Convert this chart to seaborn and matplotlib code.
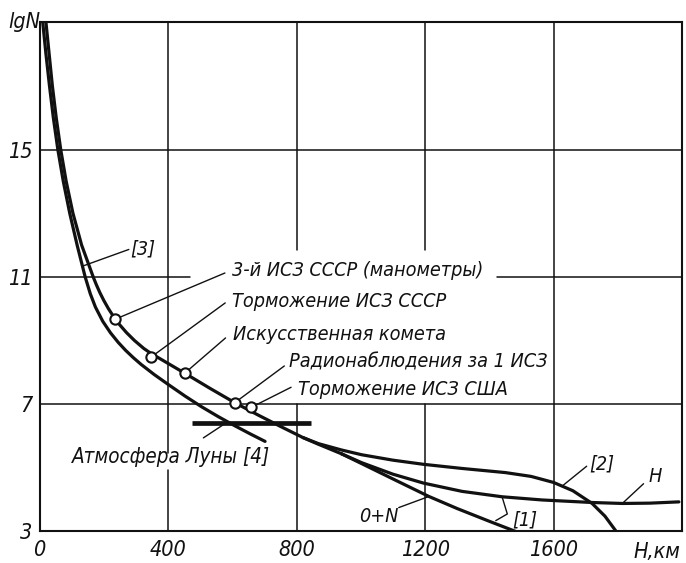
import matplotlib
matplotlib.use("Agg")
import matplotlib.pyplot as plt
import seaborn as sns

# --- axis ticks -------------------------------------------------------------
x_ticks = [0, 400, 800, 1200, 1600]
y_ticks = [3, 7, 11, 15]

# --- density curves: altitude H (km) vs lgN ---------------------------------
# outer curve (through the observations), common part
main_h = [20, 30, 40, 52, 66, 83, 104, 131, 167, 177, 188, 200.5, 214.5, 230.5,
          249, 270.5, 295.5, 324.5, 346, 400, 454, 530, 607, 680, 750, 820,
          868, 940]
main_lgn = [19.0, 18.0, 17.0, 16.0, 15.0, 14.0, 13.0, 12.0, 11.0, 10.75, 10.5,
            10.25, 10.0, 9.75, 9.5, 9.25, 9.0, 8.75, 8.60, 8.28, 7.96, 7.50,
            7.05, 6.66, 6.30, 5.95, 5.74, 5.44]

# O+N branch
on_h = [940, 1003, 1100, 1212, 1300, 1400, 1482]
on_lgn = [5.44, 5.13, 4.65, 4.10, 3.72, 3.32, 3.0]

# H branch
hyd_h = [940, 1003, 1100, 1195, 1315, 1440, 1564, 1720, 1814, 1900, 1990]
hyd_lgn = [5.44, 5.16, 4.80, 4.52, 4.26, 4.09, 3.99, 3.91, 3.88, 3.89, 3.93]

# curve [2]
c2_h = [820, 868, 940, 1003, 1100, 1195, 1315, 1450, 1530, 1600, 1660, 1720,
        1760, 1795]
c2_lgn = [5.95, 5.76, 5.56, 5.41, 5.24, 5.11, 4.98, 4.85, 4.73, 4.54, 4.28,
          3.88, 3.48, 3.0]

# curve [3]
c3_h = [10, 20, 31, 43, 57, 74, 94, 117, 142, 158, 174, 197, 221, 245, 268,
        292, 316, 357, 399, 452, 504, 556, 608, 655, 702]
c3_lgn = [19.0, 18.0, 17.0, 16.0, 15.0, 14.0, 13.0, 12.0, 11.0, 10.47, 10.05,
          9.6, 9.24, 8.94, 8.69, 8.46, 8.25, 7.93, 7.63, 7.26, 6.92, 6.61,
          6.32, 6.07, 5.83]

# --- observations -------------------------------------------------------------
obs_names = ["3-й ИСЗ СССР (манометры)", "Торможение ИСЗ СССР",
             "Искусственная комета", "Радионаблюдения за 1 ИСЗ",
             "Торможение ИСЗ США"]
obs_h = [236, 346, 454, 607, 659]
obs_lgn = [9.67, 8.47, 7.99, 7.04, 6.90]
obs_label_pos = [(599, 11.03), (600, 10.06), (603, 9.02), (776, 8.16),
                 (805, 7.29)]
obs_leader_end = [(577, 11.12), (578, 10.18), (579, 9.08), (762, 8.20),
                  (783, 7.53)]

# lunar atmosphere estimate [4]
moon_h = [475, 846]
moon_lgn = [6.4, 6.4]

sns.set_theme(style="white")
plt.rcParams["font.family"] = ["DejaVu Sans"]
plt.rcParams["font.style"] = "italic"
plt.rcParams["font.stretch"] = "condensed"

fig = plt.figure(figsize=(6.86, 5.63), dpi=100)
ax = fig.add_axes([0.0576, 0.0560, 0.9367, 0.9046])
ax.set_xlim(0, 2000)
ax.set_ylim(3, 19)

ink = "#111111"

# grid, broken where the labels sit
grid_kw = dict(color=ink, lw=1.1, zorder=1)
ax.plot([0, 2000], [15, 15], **grid_kw)
ax.plot([0, 468], [11, 11], **grid_kw)
ax.plot([1424, 2000], [11, 11], **grid_kw)
ax.plot([0, 2000], [7, 7], **grid_kw)
ax.plot([400, 400], [3, 4.93], **grid_kw)
ax.plot([400, 400], [5.46, 19], **grid_kw)
for xv in (800, 1200):
    ax.plot([xv, xv], [3, 7], **grid_kw)
    ax.plot([xv, xv], [11.85, 19], **grid_kw)
ax.plot([1600, 1600], [3, 19], **grid_kw)

curve_kw = dict(ax=ax, color=ink, linewidth=2.3, sort=False, estimator=None,
                zorder=3)
sns.lineplot(x=main_h, y=main_lgn, **curve_kw)
sns.lineplot(x=on_h, y=on_lgn, **curve_kw)
sns.lineplot(x=hyd_h, y=hyd_lgn, **curve_kw)
sns.lineplot(x=c2_h, y=c2_lgn, **curve_kw)
sns.lineplot(x=c3_h, y=c3_lgn, **curve_kw)
for ln in ax.lines:
    ln.set_solid_joinstyle("round")

ax.plot(moon_h, moon_lgn, color=ink, lw=3.4, solid_capstyle="butt", zorder=3)

lead_kw = dict(color=ink, lw=1.0, zorder=2)
txt_kw = dict(fontsize=14.2, color=ink, fontstyle="italic", va="baseline")

for name, h, n, (tx, ty), (lx, ly) in zip(obs_names, obs_h, obs_lgn,
                                           obs_label_pos, obs_leader_end):
    ax.plot([h, lx], [n, ly], **lead_kw)
    ax.text(tx, ty, name, **txt_kw)

sns.scatterplot(x=obs_h, y=obs_lgn, ax=ax, s=55, color="white",
                edgecolor=ink, linewidth=1.5, zorder=5)

# curve labels
ax.plot([135, 278], [11.34, 11.86], **lead_kw)
ax.text(281, 11.7, "[3]", **txt_kw)

ax.plot([510, 582], [5.94, 6.42], **lead_kw)
ax.text(100, 5.15, "Атмосфера Луны [4]", **dict(txt_kw, fontsize=14.8))

ax.plot([1118, 1212], [3.75, 4.10], **lead_kw)
ax.text(996, 3.3, "0+N", **txt_kw)

ax.plot([1440, 1456, 1420], [4.08, 3.55, 3.34], **lead_kw)
ax.text(1472, 3.19, "[1]", **txt_kw)

ax.plot([1626, 1703], [4.42, 5.05], **lead_kw)
ax.text(1712, 4.95, "[2]", **txt_kw)

ax.plot([1814, 1880], [3.88, 4.5], **lead_kw)
ax.text(1897, 4.55, "H", **txt_kw)

# axes
ax.set_xticks(x_ticks)
ax.set_xticklabels([str(v) for v in x_ticks])
ax.set_yticks(y_ticks)
ax.set_yticklabels([str(v) for v in y_ticks])
ax.tick_params(length=0, labelsize=15.5, colors=ink)
ax.tick_params(axis="x", pad=6)
ax.tick_params(axis="y", pad=5)
for lab in ax.get_xticklabels() + ax.get_yticklabels():
    lab.set_fontstyle("italic")
for sp in ax.spines.values():
    sp.set_visible(True)
    sp.set_color(ink)
    sp.set_linewidth(1.5)
ax.set_xlabel("")
ax.set_ylabel("")

fig.text(8 / 686, 1 - 28 / 563, "lgN", fontsize=15.5, color=ink,
         fontstyle="italic", va="baseline")
fig.text(633 / 686, 1 - 558 / 563, "H,км", fontsize=15.5, color=ink,
         fontstyle="italic", va="baseline")

fig.savefig("out.png", dpi=100, facecolor="white")
